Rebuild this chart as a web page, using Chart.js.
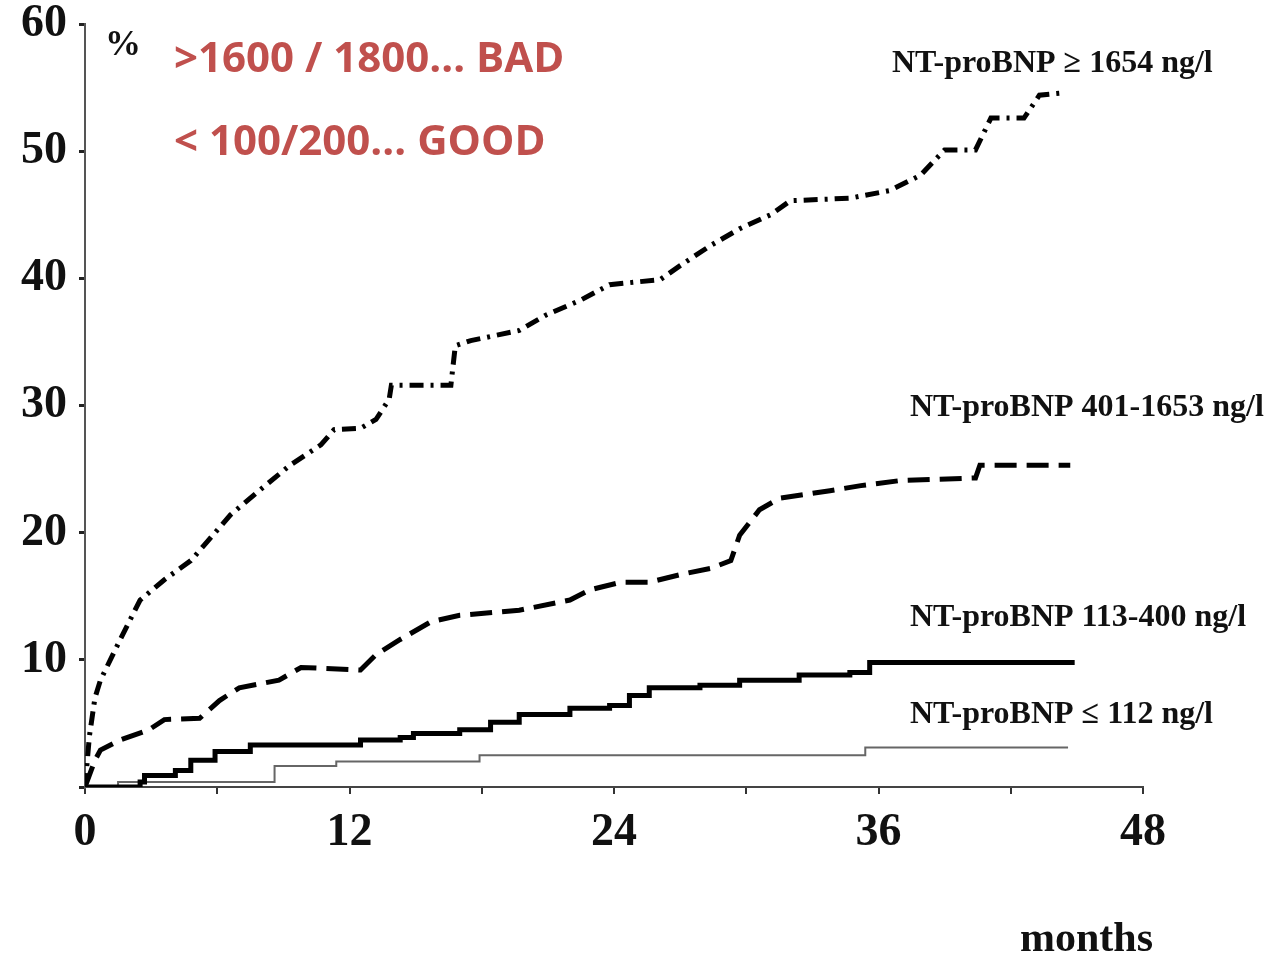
<!DOCTYPE html>
<html>
<head>
<meta charset="utf-8">
<script src="https://cdn.jsdelivr.net/npm/chart.js@4.4.0/dist/chart.umd.min.js"></script>
<style>
  html, body { margin: 0; padding: 0; background: #fff; }
  #wrap { width: 1278px; height: 956px; position: relative; }
</style>
</head>
<body>
<div id="wrap"><canvas id="chart" width="1278" height="956"></canvas></div>
<script>
// ===== Data (months, cumulative %) =====
const xTicks = [0, 12, 24, 36, 48];
const yTicks = [0, 10, 20, 30, 40, 50, 60];

const highMonths = [0, 0.2, 0.45, 0.7, 1.6, 2.5, 3.6, 4.8, 5.4, 6.6, 7.9, 9.3, 10.7, 11.3, 12.5, 13.2, 13.8, 13.9, 16.6, 16.8, 17.5, 19.7, 20.9, 22.5, 23.8, 26.1, 27.0, 28.4, 29.7, 31.1, 32.0, 34.7, 36.5, 37.9, 39.0, 40.4, 41.1, 42.6, 43.3, 44.5];
const highValues = [0, 4.0, 7.0, 8.4, 11.6, 14.7, 16.3, 17.8, 19.0, 21.4, 23.3, 25.3, 26.9, 28.1, 28.2, 28.9, 30.5, 31.6, 31.6, 34.7, 35.1, 35.9, 37.1, 38.3, 39.5, 39.9, 41.0, 42.6, 43.9, 45.0, 46.1, 46.3, 46.9, 48.1, 50.1, 50.1, 52.6, 52.6, 54.4, 54.6];

const midHighMonths = [0, 0.45, 0.7, 1.6, 2.9, 3.6, 5.2, 6.1, 7.0, 8.8, 9.8, 12.5, 13.2, 14.3, 15.7, 17.0, 19.7, 22.0, 22.9, 24.3, 25.6, 27.0, 28.4, 29.3, 29.7, 30.6, 31.5, 33.8, 35.2, 37.0, 40.4, 40.6, 44.7];
const midHighValues = [0, 2.1, 2.9, 3.7, 4.5, 5.3, 5.4, 6.8, 7.8, 8.4, 9.4, 9.2, 10.4, 11.6, 13.0, 13.5, 13.9, 14.7, 15.5, 16.1, 16.1, 16.7, 17.2, 17.8, 19.8, 21.8, 22.7, 23.3, 23.7, 24.1, 24.3, 25.3, 25.3];

const midLowMonths = [0, 2.5, 2.7, 4.1, 4.8, 5.9, 7.5, 12.2, 12.5, 14.3, 14.9, 17.0, 18.4, 19.7, 22.0, 23.8, 24.7, 25.6, 27.9, 29.7, 32.4, 34.7, 35.6, 44.9];
const midLowValues = [0, 0.4, 0.9, 1.3, 2.1, 2.8, 3.3, 3.3, 3.7, 3.9, 4.2, 4.5, 5.1, 5.7, 6.2, 6.4, 7.2, 7.8, 8.0, 8.4, 8.8, 9.0, 9.8, 9.8];

const lowMonths = [0, 1.5, 8.6, 11.4, 17.9, 35.4, 44.6];
const lowValues = [0, 0.4, 1.65, 2.0, 2.5, 3.1, 3.1];

const seriesLabels = ['NT-proBNP \u2265 1654 ng/l', 'NT-proBNP 401-1653 ng/l', 'NT-proBNP 113-400 ng/l', 'NT-proBNP \u2264 112 ng/l'];

function toPoints(xs, ys) {
    return xs.map((x, i) => ({ x: x, y: ys[i] }));
}

const serif = '"Liberation Serif", "Times New Roman", serif';

// ===== Text annotations drawn on the canvas =====
const annotations = {
    id: 'annotations',
    afterDraw(chart) {
        const ctx = chart.ctx;
        ctx.save();
        ctx.textBaseline = 'middle';
        ctx.textAlign = 'left';

        ctx.fillStyle = '#111';
        ctx.font = 'bold 36px ' + serif;
        ctx.fillText('%', 105, 46);

        ctx.fillStyle = '#c0504d';
        ctx.font = 'bold 42px "Open Sans", sans-serif';
        ctx.fillText('>1600 / 1800\u2026 BAD', 174, 60);
        ctx.fillText('< 100/200\u2026 GOOD', 174, 143);

        ctx.fillStyle = '#111';
        ctx.font = 'bold 32px ' + serif;
        ctx.fillText(seriesLabels[0], 892, 64);
        ctx.fillText(seriesLabels[1], 910, 408);
        ctx.fillText(seriesLabels[2], 910, 618);
        ctx.fillText(seriesLabels[3], 910, 715);

        ctx.font = 'bold 42px ' + serif;
        ctx.fillText('months', 1020, 940);
        ctx.restore();
    }
};

const ctx = document.getElementById('chart').getContext('2d');
new Chart(ctx, {
    type: 'line',
    data: {
        datasets: [
            {
                label: seriesLabels[0],
                data: toPoints(highMonths, highValues),
                borderColor: '#000',
                borderWidth: 5,
                borderDash: [14, 7, 3, 7],
                pointRadius: 0,
                tension: 0
            },
            {
                label: seriesLabels[1],
                data: toPoints(midHighMonths, midHighValues),
                borderColor: '#000',
                borderWidth: 5,
                borderDash: [22, 10],
                pointRadius: 0,
                tension: 0
            },
            {
                label: seriesLabels[2],
                data: toPoints(midLowMonths, midLowValues),
                borderColor: '#000',
                borderWidth: 5,
                stepped: 'before',
                pointRadius: 0
            },
            {
                label: seriesLabels[3],
                data: toPoints(lowMonths, lowValues),
                borderColor: '#666',
                borderWidth: 2,
                stepped: 'before',
                pointRadius: 0
            }
        ]
    },
    options: {
        responsive: false,
        animation: false,
        layout: { padding: { left: 0, top: 24, right: 135, bottom: 0 } },
        plugins: {
            legend: { display: false },
            tooltip: { enabled: false }
        },
        scales: {
            x: {
                type: 'linear',
                min: 0,
                max: 48,
                afterFit(scale) {
                    scale.height = 169;
                    scale.paddingLeft = 0;
                    scale.paddingRight = 0;
                },
                afterBuildTicks(scale) {
                    scale.ticks = [0, 6, 12, 18, 24, 30, 36, 42, 48].map(v => ({ value: v }));
                },
                border: { display: true, color: '#444', width: 2 },
                grid: { drawOnChartArea: false, color: '#333', tickLength: 7, lineWidth: 2 },
                ticks: {
                    padding: 12,
                    color: '#111',
                    maxRotation: 0,
                    autoSkip: false,
                    font: { family: serif, size: 46, weight: 'bold' },
                    callback: v => xTicks.includes(v) ? String(v) : ''
                }
            },
            y: {
                min: 0,
                max: 60,
                afterFit(scale) {
                    scale.width = 85;
                    scale.paddingTop = 0;
                    scale.paddingBottom = 0;
                },
                afterBuildTicks(scale) {
                    scale.ticks = yTicks.map(v => ({ value: v }));
                },
                border: { display: true, color: '#555', width: 2 },
                grid: { drawOnChartArea: false, color: '#222', tickLength: 6, lineWidth: 3 },
                ticks: {
                    padding: 12,
                    color: '#111',
                    font: { family: serif, size: 46, weight: 'bold' },
                    callback: v => v === 0 ? '' : String(v)
                }
            }
        }
    },
    plugins: [annotations]
});
</script>
</body>
</html>
